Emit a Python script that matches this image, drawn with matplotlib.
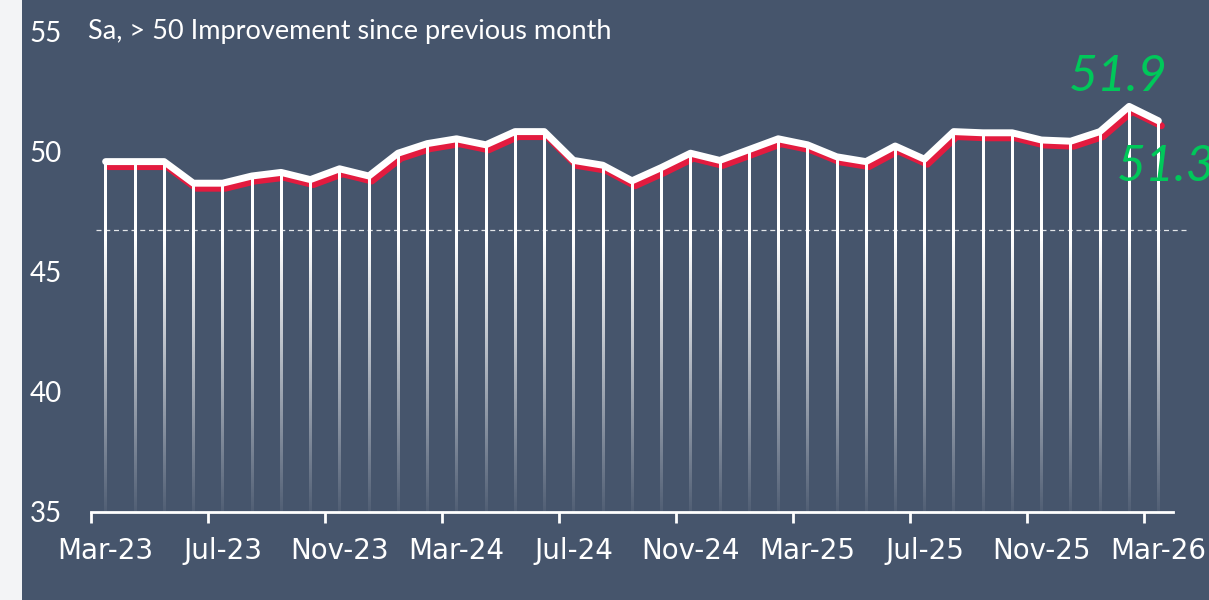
import matplotlib
matplotlib.use('Agg')
import matplotlib.pyplot as plt
import matplotlib.transforms as mtransforms
from matplotlib.patches import Rectangle
import numpy as np

# monthly index, Mar-23 .. Mar-26
values = [49.6, 49.6, 49.6, 48.7, 48.7, 49.0, 49.15, 48.85, 49.3, 49.0,
          49.95, 50.35, 50.55, 50.3, 50.85, 50.85, 49.65, 49.45, 48.8, 49.35,
          49.95, 49.65, 50.1, 50.55, 50.3, 49.8, 49.6, 50.25, 49.7, 50.85,
          50.8, 50.8, 50.5, 50.45, 50.85, 51.9, 51.3]
tick_labels = ['Mar-23', 'Jul-23', 'Nov-23', 'Mar-24', 'Jul-24', 'Nov-24',
               'Mar-25', 'Jul-25', 'Nov-25', 'Mar-26']
tick_step = 4
ref_level = 46.75
title = 'Sa, > 50 Improvement since previous month'

bg = '#46556c'
red = '#e31b3f'
green = '#00c85a'

fig = plt.figure(figsize=(12.09, 6), dpi=100)
fig.patch.set_facecolor('#f3f4f6')
fig.patches.append(Rectangle((22 / 1209, 0), 1, 1, transform=fig.transFigure,
                             facecolor=bg, edgecolor='none', zorder=-10))

ax = fig.add_axes([91 / 1209, 88 / 600, 1082 / 1209, 480 / 600])
ax.set_facecolor('none')

x = np.arange(len(values))
vals = np.array(values)
ymin, ymax = 35, 55

# red shadow line, shifted a few pixels down/right
shadow = mtransforms.offset_copy(ax.transData, fig=fig, x=3, y=-5, units='dots')
ax.plot(x, vals, color=red, lw=5, transform=shadow, solid_capstyle='round',
        solid_joinstyle='round', zorder=2)

# vertical drop lines fading toward the axis (gradient images)
half_w = 1.2 / 29.24
for xi, v in zip(x, vals):
    ys = np.linspace(v, ymin, 200)
    grad = np.ones((len(ys), 1, 4))
    grad[:, 0, 3] = np.clip(0.06 + (ys - ymin) / 12.0, 0, 1)
    ax.imshow(grad, extent=[xi - half_w, xi + half_w, ymin, v], aspect='auto',
              origin='upper', interpolation='bilinear', zorder=3)

# main white line
ax.plot(x, vals, color='white', lw=5, solid_capstyle='round',
        solid_joinstyle='round', zorder=4)

# dashed reference line
ax.plot([-0.33, 37.02], [ref_level, ref_level], color='white', lw=0.9,
        ls=(0, (4, 3)), alpha=0.85, clip_on=False, zorder=1)

ax.set_xlim(-0.5, len(values) - 0.5)
ax.set_ylim(ymin, ymax)

for s in ['top', 'right', 'left']:
    ax.spines[s].set_visible(False)
ax.spines['bottom'].set_color('white')
ax.spines['bottom'].set_linewidth(2)

label_pos = x[::tick_step]
ax.set_xticks(label_pos)
ax.set_xticklabels(tick_labels, fontsize=20, color='white', family='DejaVu Sans')
ax.set_xticks(label_pos - 0.5, minor=True)
ax.tick_params(axis='x', which='major', length=0, pad=18)
ax.tick_params(axis='x', which='minor', length=8, width=2, color='white',
               direction='out')

ax.set_yticks([35, 40, 45, 50, 55])
ax.set_yticklabels(['35', '40', '45', '50', '55'], fontsize=20, color='white',
                   family='Lato')
ax.tick_params(axis='y', length=0, pad=21)

fig.text(88 / 1209, 1 - 32 / 600, title, color='white', fontsize=19.5,
         family='Lato', va='center', ha='left')

# value labels for the last two months
ax.annotate(f'{values[-2]:.1f}', (x[-2], vals[-2]), xytext=(-11, 6),
            textcoords='offset pixels', ha='center', va='bottom',
            color=green, fontsize=36, style='italic', family='Lato',
            annotation_clip=False, zorder=5)
ax.annotate(f'{values[-1]:.1f}', (x[-1], vals[-1]), xytext=(-42, -60),
            textcoords='offset pixels', ha='left', va='baseline',
            color=green, fontsize=36, style='italic', family='Lato',
            annotation_clip=False, zorder=5)

fig.savefig('out.png', dpi=100, facecolor=fig.get_facecolor())
